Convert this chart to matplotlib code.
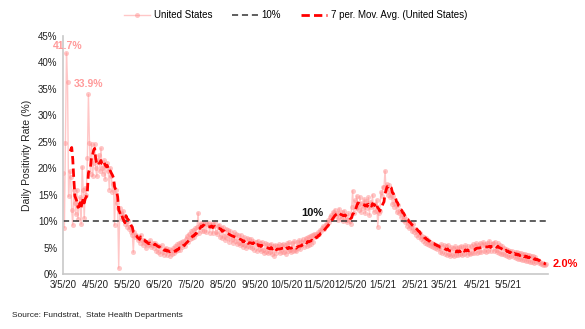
""" Daily COVID test positivity rate, US, with 7-day moving average """

import matplotlib
matplotlib.use("Agg")
import matplotlib.pyplot as plt
import pandas as pd

plt.rcParams['font.family'] = ['Liberation Sans', 'DejaVu Sans']

start_date = '2020-03-05'

# daily positivity rate (%)
mar20 = [19.2, 8.8, 24.7, 41.7, 36.3, 14.7, 19.5, 18.4, 12.1, 9.3, 15.9, 13.5, 11.3, 15.9,
         10.5, 13.0, 14.5, 9.5, 20.3, 15.9, 10.6, 16.3, 15.0, 22.0, 33.9, 24.8, 19.0]
apr20 = [24.5, 18.5, 21.0, 24.5, 20.0, 18.5, 21.5, 22.5, 19.5, 23.8, 20.0, 19.0, 21.5, 18.0, 20.5,
         21.0, 19.5, 16.0, 20.0, 18.5, 15.5, 17.0, 9.3, 16.0, 13.5, 12.5, 1.2, 12.5, 11.5, 10.5]
may20 = [12.0, 11.0, 9.5, 10.5, 9.0, 10.0, 8.5, 9.0, 8.0, 7.5, 4.2, 8.0, 7.0, 7.5, 6.5, 7.0,
         6.0, 7.5, 6.5, 5.5, 6.5, 6.0, 5.0, 6.2, 5.5, 5.8, 6.5, 5.2, 5.5, 6.0, 5.0]
jun20 = [5.9, 4.5, 5.6, 4.2, 5.3, 3.9, 5.5, 4.3, 3.7, 4.8, 5.0, 3.6, 4.5, 4.8, 3.5,
         4.6, 3.8, 5.0, 4.1, 5.4, 4.4, 5.7, 4.6, 5.9, 4.7, 6.2, 5.1, 6.4, 5.4, 6.7]
jul20 = [7.2, 6.1, 7.7, 6.6, 8.1, 6.9, 8.4, 7.0, 8.7, 7.6, 8.9, 11.6, 7.8, 9.4, 9.7, 8.1,
         9.6, 8.2, 9.9, 8.0, 9.5, 9.7, 7.9, 9.3, 9.6, 7.8, 9.2, 9.8, 8.0, 7.6, 9.1]
aug20 = [9.4, 7.1, 8.8, 6.8, 9.0, 7.3, 6.5, 8.6, 6.9, 8.3, 6.2, 8.1, 6.7, 6.0, 8.0, 6.3,
         7.7, 5.8, 7.4, 5.9, 5.5, 7.5, 5.7, 5.2, 7.1, 5.6, 5.0, 6.9, 5.4, 6.7, 5.1]
sep20 = [6.6, 4.9, 6.3, 4.7, 6.1, 4.5, 6.4, 4.8, 6.0, 4.4, 6.2, 4.6, 4.1, 5.9, 4.3,
         5.7, 4.0, 5.6, 4.2, 5.8, 3.9, 5.4, 3.5, 5.6, 4.1, 5.3, 5.7, 4.0, 5.5, 4.2]
oct20 = [5.8, 4.3, 5.5, 3.9, 5.9, 4.4, 6.1, 4.6, 4.2, 6.0, 4.5, 6.3, 4.7, 4.4, 6.1, 4.9,
         6.5, 4.8, 6.2, 6.7, 5.1, 6.4, 6.9, 5.3, 7.0, 5.6, 7.3, 5.8, 7.5, 6.1, 7.7]
nov20 = [7.0, 7.6, 7.3, 8.0, 7.7, 8.4, 8.1, 8.8, 9.2, 8.6, 9.6, 9.3, 10.2, 9.8, 10.8,
         11.2, 10.5, 11.8, 11.4, 12.2, 11.0, 11.6, 10.2, 12.4, 11.0, 10.5, 11.8, 10.0, 12.0, 10.8]
dec20 = [10.2, 9.8, 11.5, 10.0, 9.5, 12.8, 15.8, 11.5, 14.0, 12.5, 14.8, 13.0, 12.2, 14.6, 11.8,
         13.5, 12.5, 14.2, 11.5, 13.8, 12.6, 14.5, 11.2, 13.6, 12.8, 15.0, 11.8, 13.2, 12.0, 14.0, 9.0]
jan21 = [11.5, 12.0, 15.5, 14.8, 16.5, 16.5, 19.5, 16.0, 17.0, 15.0, 16.8, 14.5, 15.5, 13.2, 14.8,
         12.8, 13.5, 11.8, 13.0, 11.5, 12.2, 10.8, 11.8, 10.2, 11.0, 9.8, 10.5, 9.2, 10.0, 8.8, 9.5]
feb21 = [9.0, 8.2, 9.5, 8.0, 8.6, 7.5, 8.2, 7.0, 7.8, 6.6, 7.3, 6.4, 7.0, 6.0,
         6.8, 5.8, 6.5, 5.6, 6.2, 5.4, 6.0, 5.2, 5.8, 5.0, 5.6, 4.8, 5.4, 5.0]
mar21 = [4.2, 5.7, 4.0, 5.5, 3.9, 5.3, 3.7, 5.6, 3.8, 3.4, 5.2, 3.6, 5.0, 3.5, 5.3, 3.7,
         4.9, 3.6, 5.2, 3.8, 5.4, 3.6, 5.1, 3.9, 5.5, 3.7, 5.3, 4.0, 3.8, 5.4, 4.1]
apr21 = [5.7, 4.0, 5.4, 5.9, 4.1, 5.5, 4.3, 6.0, 4.2, 5.6, 6.1, 4.4, 5.8, 4.3, 5.9,
         4.5, 6.3, 4.4, 5.8, 6.0, 4.5, 6.2, 4.7, 4.2, 5.9, 4.1, 5.5, 3.9, 5.3, 3.8]
may21 = [5.0, 3.7, 4.8, 3.5, 4.7, 3.3, 4.5, 3.4, 4.4, 3.2, 4.3, 3.1, 4.2, 3.0, 4.1, 2.9,
         4.0, 2.8, 3.9, 2.8, 3.8, 2.6, 3.7, 2.5, 3.6, 2.4, 3.5, 2.3, 3.4, 2.2, 3.3]
jun21 = [2.4, 2.7, 2.2, 2.3, 2.0, 2.2, 1.8, 2.0, 1.7, 1.9]

threshold = 10
tick_dates = pd.date_range('2020-03-01', '2021-05-01', freq='MS') + pd.Timedelta(days=4)

daily = (mar20 + apr20 + may20 + jun20 + jul20 + aug20 + sep20 + oct20 + nov20 + dec20
         + jan21 + feb21 + mar21 + apr21 + may21 + jun21)
dates = pd.date_range(start_date, periods=len(daily), freq='D')
s = pd.Series(daily, index=dates)
ma = s.rolling(7).mean()

fig = plt.figure(figsize=(5.85, 3.29), dpi=100)
ax = fig.add_axes([0.1077, 0.1657, 0.829, 0.7263])

ax.plot(s.index, s.values, color='#ff9090', alpha=0.5, lw=1.0, marker='o', ms=3.6,
        markeredgewidth=0, label='United States')
ax.axhline(threshold, color='#333333', lw=1.1, ls=(0, (4, 2.5)), label='10%')
ax.plot(ma.index, ma.values, color='#ff0000', lw=2.0, ls=(0, (3, 1.5)),
        label='7 per. Mov. Avg. (United States)')

# annotations
pk = s.idxmax()
ax.text(pk + pd.Timedelta(days=1), s.max() + 0.3, f'{s.max():.1f}%', color='#ff9a9a',
        fontsize=7.5, fontweight='bold', ha='center', va='bottom')
sec = s['2020-03-20':].idxmax()
ax.text(sec, s[sec] + 1.0, f'{s[sec]:.1f}%', color='#ff9a9a', fontsize=7.5,
        fontweight='bold', ha='center', va='bottom')
ax.text(pd.Timestamp('2020-10-29'), threshold + 0.6, '10%', color='#111111', fontsize=8,
        fontweight='bold', ha='center', va='bottom')
ax.text(ma.index[-1] + pd.Timedelta(days=6), ma.iloc[-1], f'{ma.iloc[-1]:.1f}%',
        color='#ff0000', fontsize=8, fontweight='bold', ha='left', va='center')

ax.set_ylim(0, 45)
ax.set_yticks(range(0, 46, 5))
ax.set_yticklabels([f'{v}%' for v in range(0, 46, 5)])
ax.set_xlim(dates[0] - pd.Timedelta(hours=8), dates[0] + pd.Timedelta(days=464))
ax.set_xticks(tick_dates)
ax.set_xticklabels([f'{d.month}/{d.day}/{d.year % 100}' for d in tick_dates])
ax.tick_params(length=0, labelsize=7, colors='#222222', pad=4)
ax.set_ylabel('Daily Positivity Rate (%)', fontsize=7.5, color='#222222', labelpad=4)

for side in ['top', 'right']:
    ax.spines[side].set_visible(False)
for side in ['left', 'bottom']:
    ax.spines[side].set_color('#c8c8c8')
    ax.spines[side].set_linewidth(1.2)

fig.legend(loc='upper center', bbox_to_anchor=(0.505, 0.995), ncol=3, frameon=False,
           fontsize=7, handlelength=2.7, columnspacing=2.0, handletextpad=0.4)

fig.text(0.02, 0.035, 'Source: Fundstrat,  State Health Departments', fontsize=6, color='#222222')

fig.savefig('out.png', dpi=100)
